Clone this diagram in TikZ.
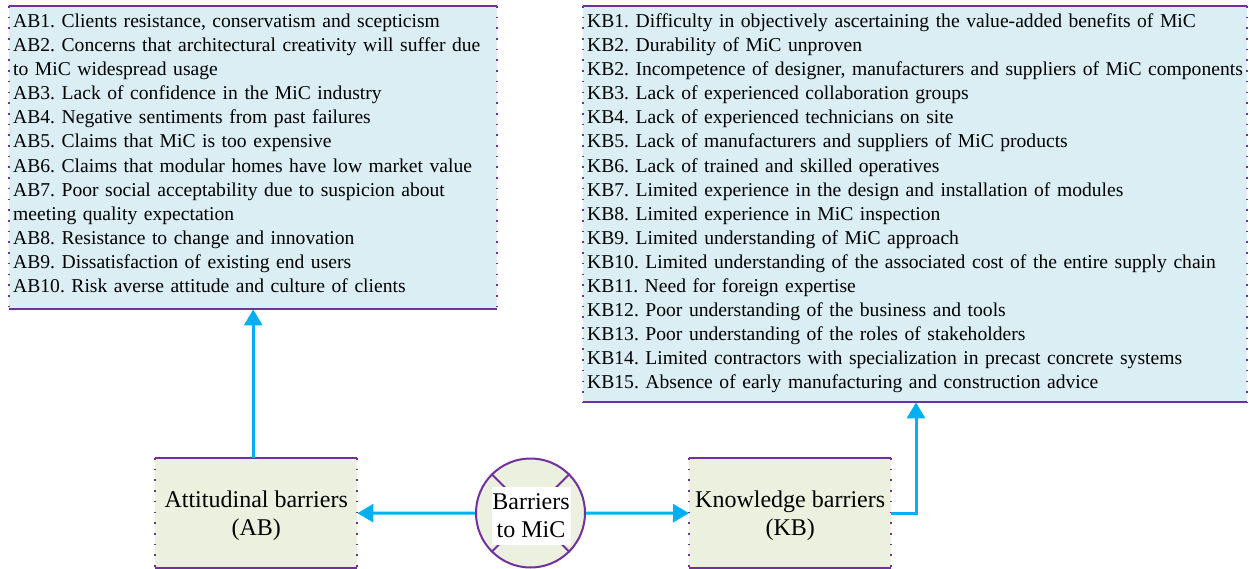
\documentclass[tikz,border=0pt]{standalone}
\usepackage{fontspec}
\setmainfont{Liberation Serif}
\usetikzlibrary{arrows.meta}
\definecolor{edgepurple}{HTML}{7030A0}
\definecolor{listfill}{HTML}{DAEEF3}
\definecolor{groupfill}{HTML}{EBF1DE}
\definecolor{linkcyan}{HTML}{00B0F0}
\frenchspacing
\hyphenpenalty=10000

\begin{document}
\begin{tikzpicture}[x=1pt,y=-1pt,
  panel/.style={rectangle, inner sep=0pt, anchor=north west},
  listpanel/.style={panel, fill=listfill},
  grouppanel/.style={panel, fill=groupfill},
  grouptext/.style={inner sep=0pt, align=center,
    font=\fontsize{24}{28}\selectfont},
  solidedge/.style={draw=edgepurple, line width=2pt},
  dotedge/.style={draw=edgepurple, line width=2pt, dash pattern=on 1.6pt off 9.1pt},
  listtext/.style={anchor=base west, inner sep=0pt, align=left,
    font=\fontsize{19.6}{24.1}\selectfont},
  arr/.style={draw=linkcyan, line width=3pt, -{Triangle[length=16pt,width=18pt]}}
]
\useasboundingbox (0,0) rectangle (1249,569);

% panels
\node[listpanel, minimum width=488pt, minimum height=303pt] (AB) at (9,6) {};
\node[listpanel, minimum width=664pt, minimum height=396pt] (KB) at (583,6) {};
\node[grouppanel, minimum width=202pt, minimum height=110pt] (att) at (155,458) {};
\node[grouppanel, minimum width=202pt, minimum height=110pt] (know) at (689,458) {};
\node[grouptext] (attlabel) at ([yshift=-3pt]att.center) {Attitudinal barriers\\(AB)};
\node[grouptext] (knowlabel) at ([yshift=-3pt]know.center) {Knowledge barriers\\(KB)};

% panel borders: dotted sides, solid top and bottom
\foreach \n in {AB,KB,att,know} {
  \draw[dotedge] (\n.north west) -- (\n.south west);
  \draw[dotedge] (\n.north east) -- (\n.south east);
  \draw[solidedge] (\n.north west) -- (\n.north east);
  \draw[solidedge] (\n.south west) -- (\n.south east);
}

% item lists
\node[listtext, text width=520pt] (ABlist) at (13,27.5) {%
AB1. Clients resistance, conservatism and scepticism\\
AB2. Concerns that architectural creativity will suffer due\\
to MiC widespread usage\\
AB3. Lack of confidence in the MiC industry\\
AB4. Negative sentiments from past failures\\
AB5. Claims that MiC is too expensive\\
AB6. Claims that modular homes have low market value\\
AB7. Poor social acceptability due to suspicion about\\
meeting quality expectation\\
AB8. Resistance to change and innovation\\
AB9. Dissatisfaction of existing end users\\
AB10. Risk averse attitude and culture of clients};

\node[listtext, text width=700pt] (KBlist) at (587,27.5) {%
KB1. Difficulty in objectively ascertaining the value-added benefits of MiC\\
KB2. Durability of MiC unproven\\
KB2. Incompetence of designer, manufacturers and suppliers of MiC components\\
KB3. Lack of experienced collaboration groups\\
KB4. Lack of experienced technicians on site\\
KB5. Lack of manufacturers and suppliers of MiC products\\
KB6. Lack of trained and skilled operatives\\
KB7. Limited experience in the design and installation of modules\\
KB8. Limited experience in MiC inspection\\
KB9. Limited understanding of MiC approach\\
KB10. Limited understanding of the associated cost of the entire supply chain\\
KB11. Need for foreign expertise\\
KB12. Poor understanding of the business and tools\\
KB13. Poor understanding of the roles of stakeholders\\
KB14. Limited contractors with specialization in precast concrete systems\\
KB15. Absence of early manufacturing and construction advice};

% central hub: crossed circle with a label box on top
\node[circle, fill=groupfill, draw=edgepurple, line width=2pt,
  minimum size=109pt, inner sep=0pt] (hub) at (530.5,513) {};
\draw[edgepurple, line width=2pt] (hub.45) -- (hub.225);
\draw[edgepurple, line width=2pt] (hub.135) -- (hub.315);
\node[fill=white, inner sep=0pt, minimum width=79pt, minimum height=58pt,
  align=center, font=\fontsize{24}{28}\selectfont] (hublabel) at (531,515.5)
  {Barriers\\to MiC};

% connectors
\draw[arr] (hub.west) -- (att.east);
\draw[arr] (hub.east) -- (know.west);
\draw[arr] ([xshift=-3pt]att.north) -- ([xshift=-3pt]att.north |- AB.south);
\draw[arr] (know.east) -| ([xshift=333pt]KB.south west);
\end{tikzpicture}
\end{document}
